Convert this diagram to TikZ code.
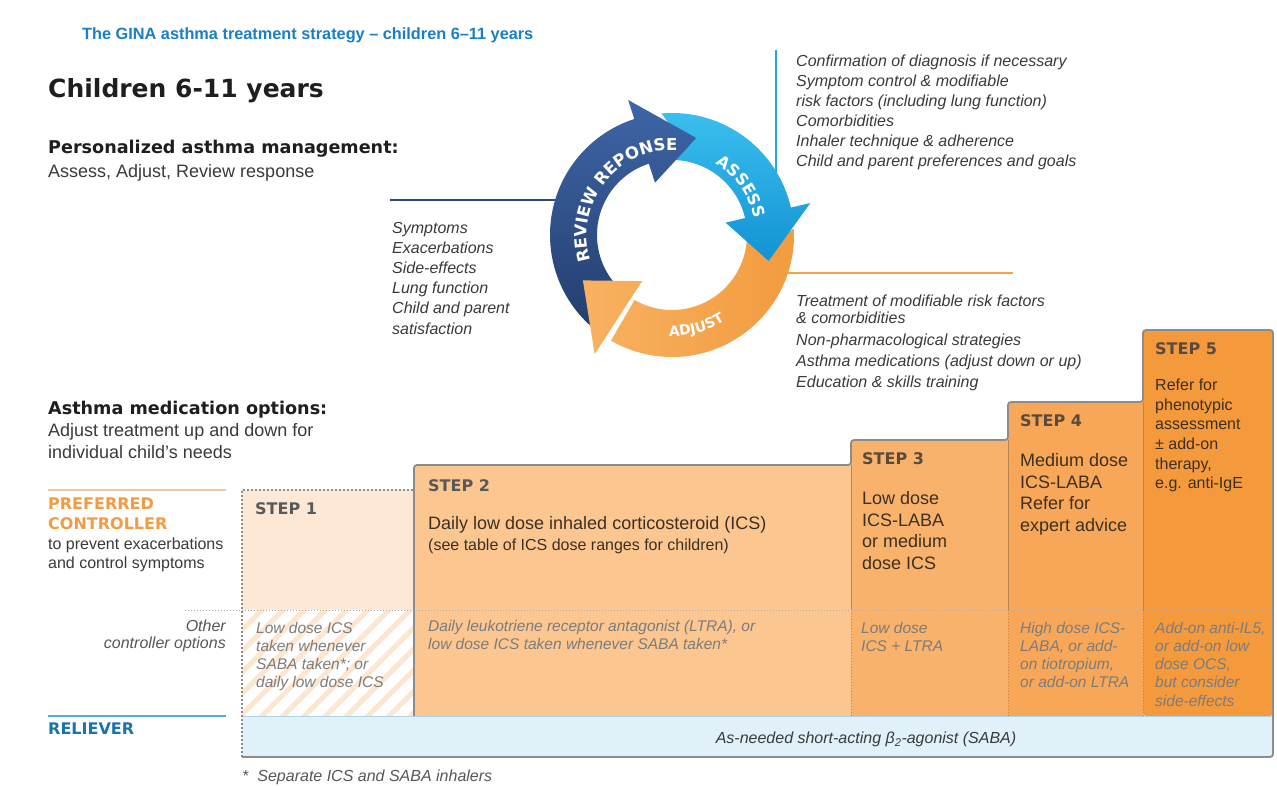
\documentclass[tikz,border=0pt]{standalone}
\usepackage{fontspec}
\setmainfont{Liberation Sans}
\newfontfamily\hdfont{DejaVu Sans}
\usetikzlibrary{decorations.text,patterns.meta}

\definecolor{titleblue}{HTML}{1A7FC4}
\definecolor{headblack}{HTML}{1E1E1E}
\definecolor{txt}{HTML}{3A3A3A}
\definecolor{ital}{HTML}{7C7C7C}
\definecolor{revtop}{HTML}{4068AA}
\definecolor{revbot}{HTML}{1D3461}
\definecolor{asstop}{HTML}{42C6F2}
\definecolor{assbot}{HTML}{0F8FD2}
\definecolor{adjleft}{HTML}{F8B465}
\definecolor{adjright}{HTML}{F2983A}
\definecolor{assc}{HTML}{22AAE4}
\definecolor{adjc}{HTML}{F5A24A}
\definecolor{navyline}{HTML}{2D4A7C}
\definecolor{s1c}{HTML}{FDE8D6}
\definecolor{s1stripe}{HTML}{FDE6D0}
\definecolor{s2c}{HTML}{FBC690}
\definecolor{s3c}{HTML}{F9B26C}
\definecolor{s4c}{HTML}{F7A757}
\definecolor{s5c}{HTML}{F4993C}
\definecolor{relc}{HTML}{E0F1FA}
\definecolor{framec}{HTML}{8C8C8C}
\definecolor{prefc}{HTML}{F39A45}
\definecolor{relbl}{HTML}{1B74A8}
\definecolor{stephd}{HTML}{5A4A3C}
\definecolor{steptx}{HTML}{3D3022}
\definecolor{sepc}{HTML}{B9854F}
\definecolor{prefline}{HTML}{F2C4A0}
\definecolor{relline}{HTML}{5AAAD0}

\newcommand\fs[2]{\fontsize{#1}{#2}\selectfont}
\newcommand\bodypath[2]{(#1:122) arc[start angle=#1, end angle=#2, radius=122pt]
    -- (#2:75) arc[start angle=#2, end angle=#1, radius=75pt]
    -- ({#1-9}:98.5) -- cycle}
\newcommand\headpath[2]{(#1:142) -- (#2:100) -- (#1:55) -- cycle}
\newcommand\shadedpart[3]{\begin{scope}\clip #1; \shade[#2] #3; \end{scope}}

\tikzset{
  tx/.style={inner sep=0pt, anchor=base west, align=left},
  txr/.style={inner sep=0pt, anchor=base east, align=right},
  heading/.style={text=headblack, font=\hdfont\bfseries\fs{17.6}{22}},
  body/.style={text=txt, font=\fs{18}{22}},
  listtxt/.style={text=txt, font=\itshape\fs{16}{20.2}},
  othertxt/.style={text=ital, font=\itshape\fs{15.5}{18.3}},
  stephead/.style={text=stephd, font=\hdfont\bfseries\fs{16}{20}},
  steptext/.style={text=steptx, font=\fs{18}{21.7}},
  arctext/.style={decorate, decoration={text along path, text align=center, text={#1}}},
  revshade/.style={top color=revtop, bottom color=revbot},
  assshade/.style={top color=asstop, bottom color=assbot},
  adjshade/.style={left color=adjleft, right color=adjright},
}

\begin{document}
\begin{tikzpicture}[x=1pt, y=-1pt]
\useasboundingbox (0,0) rectangle (1277,787);
\fill[white] (0,0) rectangle (1277,787);

% ---------- title block ----------
\node[tx, text=titleblue, font=\bfseries\fs{16.3}{20}] (title) at (82,39) {The GINA asthma treatment strategy – children 6–11 years};
\node[tx, text=headblack, font=\hdfont\bfseries\fs{25}{30}] (children) at (48,97) {Children 6-11 years};
\node[tx, heading] (pam) at (48,153.5) {Personalized asthma management:};
\node[tx, body] (aar) at (48,177.5) {Assess, Adjust, Review response};

% ---------- cycle guide lines ----------
\draw[navyline, line width=2.5pt] (390,200) -- (565,200);
\draw[assc, line width=2.5pt] (776,50) -- (776,175);
\draw[adjc, line width=2.5pt] (765,273) -- (1013,273);

% ---------- cycle ----------
\begin{scope}[shift={(672,235)}, x=1pt, y=1pt]
  \shadedpart{\bodypath{232}{105}}{revshade}{(-150,-150) rectangle (40,150)}
  \shadedpart{\bodypath{95}{10}}{assshade}{(-20,-40) rectangle (150,150)}
  \shadedpart{\bodypath{3}{-120}}{adjshade}{(-110,-150) rectangle (150,20)}
  \shadedpart{\headpath{108}{76}}{revshade}{(-150,-150) rectangle (40,150)}
  \shadedpart{\headpath{13}{-15}}{assshade}{(-20,-40) rectangle (150,150)}
  \shadedpart{\headpath{-123}{-153}}{adjshade}{(-110,-150) rectangle (150,20)}
  \path[arctext={|\hdfont\bfseries\fs{16.5}{16}\color{white}|REVIEW REPONSE}] (202:85) arc[start angle=202, end angle=82, radius=85pt];
  \path[arctext={|\hdfont\bfseries\fs{16}{16}\color{white}|ASSESS}] (75:84) arc[start angle=75, end angle=-5, radius=84pt];
  \path[arctext={|\hdfont\bfseries\fs{14}{14}\color{white}|ADJUST}] (250:101) arc[start angle=250, end angle=320, radius=101pt];
\end{scope}

% ---------- cycle lists ----------
\node[tx, listtxt] (revlist) at (392,334) {Symptoms\\Exacerbations\\Side-effects\\Lung function\\Child and parent\\satisfaction};
\node[tx, listtxt, font=\itshape\fs{16}{20}] (asslist) at (796,166) {Confirmation of diagnosis if necessary\\Symptom control \& modifiable\\risk factors (including lung function)\\Comorbidities\\Inhaler technique \& adherence\\Child and parent preferences and goals};
\node[tx, listtxt, font=\itshape\fs{16}{20}] (adjlist) at (796,387) {Treatment of modifiable risk factors\\[-3pt]\& comorbidities\\[2pt]Non-pharmacological strategies\\[1pt]Asthma medications (adjust down or up)\\[1pt]Education \& skills training};

% ---------- medication options heading ----------
\node[tx, heading] (amo) at (48,414.5) {Asthma medication options:};
\node[tx, body] (adjtreat) at (48,458.5) {Adjust treatment up and down for\\individual child’s needs};

% ---------- step fills ----------
\fill[s1c] (242,490) rectangle (414,610);
\fill[white] (242,610) rectangle (414,716);
\fill[pattern={Lines[angle=45, distance=15pt, line width=5pt]}, pattern color=s1stripe] (242,610) rectangle (414,716);
\fill[s2c] (414,465) rectangle (851,716);
\fill[s3c] (851,440) rectangle (1008,716);
\fill[s4c] (1008,402) rectangle (1143,716);
\fill[s5c, rounded corners=3pt] (1143,716) -- (1143,330) -- (1273,330) -- (1273,716) -- cycle;
\fill[relc] (242,716) rectangle (1273,757);

% separators
\draw[sepc, line width=0.8pt] (851,465) -- (851,610);
\draw[sepc, line width=0.8pt] (1008,440) -- (1008,610);
\draw[sepc, line width=0.8pt] (1143,402) -- (1143,610);
\draw[sepc, line width=1pt, dotted] (851,610) -- (851,716);
\draw[sepc, line width=1pt, dotted] (1008,610) -- (1008,716);
\draw[sepc, line width=1pt, dotted] (1143,610) -- (1143,716);
\draw[framec!70, line width=1pt, dotted] (185,610) -- (1270,610);
\draw[relline!50, line width=1pt] (242,716) -- (1273,716);

% outline
\draw[framec, line width=1.8pt, rounded corners=3pt] (414,716) -- (414,465) -- (851,465) -- (851,440) -- (1008,440) -- (1008,402) -- (1143,402) -- (1143,330) -- (1273,330) -- (1273,757) -- (242,757);
\draw[framec, line width=2pt, dotted] (242,757) -- (242,490) -- (414,490);

% ---------- left labels ----------
\draw[prefline, line width=1.2pt] (48,490) -- (226,490);
\node[tx, text=prefc, font=\hdfont\bfseries\fs{16}{20}] (pref) at (48,529) {PREFERRED\\CONTROLLER};
\node[tx, text=txt, font=\fs{16}{19}] (prefsub) at (48,568.7) {to prevent exacerbations\\and control symptoms};
\node[txr, text=txt!85, font=\itshape\fs{16}{17.5}] (other) at (226,648.5) {Other\\controller options};
\draw[relline, line width=1.2pt] (48,716) -- (226,716);
\node[tx, text=relbl, font=\hdfont\bfseries\fs{16}{20}] (reliever) at (48,734) {RELIEVER};

% ---------- step contents ----------
\node[tx, stephead, text=black!65] (s1h) at (255,514) {STEP 1};
\node[tx, othertxt] (s1o) at (256,687.9) {Low dose ICS\\taken whenever\\SABA taken*; or\\daily low dose ICS};

\node[tx, stephead, text=black!65] (s2h) at (428,491) {STEP 2};
\node[tx, steptext] (s2t) at (428,529.5) {Daily low dose inhaled corticosteroid (ICS)};
\node[tx, text=steptx, font=\fs{16}{20}] (s2s) at (428,550.7) {(see table of ICS dose ranges for children)};
\node[tx, othertxt] (s2o) at (428,649.3) {Daily leukotriene receptor antagonist (LTRA), or\\low dose ICS taken whenever SABA taken*};

\node[tx, stephead] (s3h) at (862,464) {STEP 3};
\node[tx, steptext] (s3t) at (862,569.6) {Low dose\\ICS-LABA\\or medium\\dose ICS};
\node[tx, othertxt] (s3o) at (861,651.3) {Low dose\\ICS + LTRA};

\node[tx, stephead] (s4h) at (1020,426) {STEP 4};
\node[tx, steptext] (s4t) at (1020,531.6) {Medium dose\\ICS-LABA\\Refer for\\expert advice};
\node[tx, othertxt] (s4o) at (1020,687.9) {High dose ICS-\\LABA, or add-\\on tiotropium,\\or add-on LTRA};

\node[tx, stephead] (s5h) at (1155,354) {STEP 5};
\node[tx, steptext, font=\fs{16}{19.6}] (s5t) at (1155,488.7) {Refer for\\phenotypic\\assessment\\± add-on\\therapy,\\e.g. anti-IgE};
\node[tx, othertxt] (s5o) at (1155,706.2) {Add-on anti-IL5,\\or add-on low\\dose OCS,\\but consider\\side-effects};

% reliever text
\node[inner sep=0pt, anchor=base, text=txt, font=\itshape\fs{16}{20}] (saba) at (866,743.5) {As-needed short-acting β\textsubscript{2}-agonist (SABA)};

% footnote
\node[tx, text=txt!85, font=\itshape\fs{16}{20}] (foot) at (242,781) {*\hspace{9pt}Separate ICS and SABA inhalers};
\end{tikzpicture}
\end{document}
